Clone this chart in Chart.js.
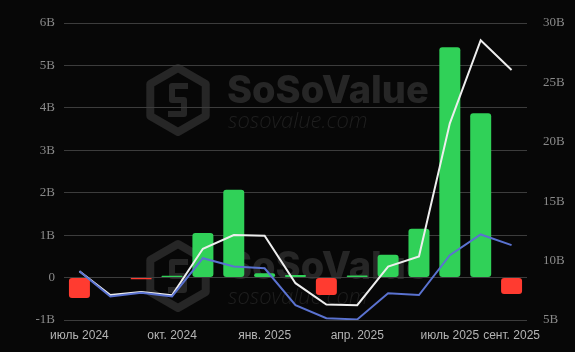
<!DOCTYPE html>
<html>
<head>
<meta charset="utf-8">
<script src="https://cdn.jsdelivr.net/npm/chart.js@4.4.1/dist/chart.umd.min.js"></script>
<style>
  html, body { margin: 0; padding: 0; background: #070707; }
  #wrap { width: 575px; height: 352px; }
</style>
</head>
<body>
<div id="wrap"><canvas id="flowChart" width="575" height="352"></canvas></div>
<script>
// monthly data, Jul 2024 .. Sep 2025
const months = ["июль 2024", "авг. 2024", "сент. 2024", "окт. 2024", "нояб. 2024", "дек. 2024",
  "янв. 2025", "февр. 2025", "март 2025", "апр. 2025", "май 2025", "июнь 2025",
  "июль 2025", "авг. 2025", "сент. 2025"];
const shownLabels = [0, 3, 6, 9, 12, 14];

// net inflow, billions (left axis)
const netInflow = [-0.48, 0, -0.04, 0.04, 1.05, 2.07, 0.1, 0.06, -0.41, 0.05, 0.54, 1.15, 5.43, 3.87, -0.39];
// right axis series, billions
const totalAssets = [9.1, 7.1, 7.35, 7.08, 11.0, 12.15, 12.1, 8.1, 6.3, 6.25, 9.5, 10.35, 21.55, 28.55, 26.05];
const secondLine = [9.1, 6.98, 7.3, 6.98, 10.2, 9.5, 9.35, 6.25, 5.15, 5.05, 7.25, 7.1, 10.45, 12.2, 11.3];

const leftTicks = [-1, 0, 1, 2, 3, 4, 5, 6];
const rightTicks = [5, 10, 15, 20, 25, 30];

const GREEN = "#30d158";
const RED = "#ff3b30";

const watermark = {
  id: "watermark",
  beforeDraw(chart) {
    const ctx = chart.ctx;
    ctx.save();
    ctx.fillStyle = "#070707";
    ctx.fillRect(0, 0, chart.width, chart.height);
    [0, 176].forEach(dy => {
      drawHex(ctx, 178, 100 + dy, 32);
      ctx.fillStyle = "#262626";
      ctx.font = "800 38px Inter";
      ctx.textBaseline = "alphabetic";
      ctx.fillText("SoSoValue", 227, 103 + dy);
      ctx.fillStyle = "#1f1f1f";
      ctx.font = "italic 300 22px 'Open Sans'";
      ctx.fillText("sosovalue.com", 228, 128 + dy);
    });
    ctx.restore();
  }
};

function drawHex(ctx, cx, cy, r) {
  ctx.strokeStyle = "#262626";
  ctx.lineWidth = 8;
  ctx.lineJoin = "round";
  ctx.beginPath();
  for (let i = 0; i < 6; i++) {
    const a = Math.PI / 3 * i - Math.PI / 2;
    const x = cx + r * Math.cos(a), y = cy + r * Math.sin(a);
    i ? ctx.lineTo(x, y) : ctx.moveTo(x, y);
  }
  ctx.closePath();
  ctx.stroke();
  ctx.lineWidth = 6;
  ctx.beginPath();
  ctx.moveTo(cx + 10, cy - 14);
  ctx.lineTo(cx - 6, cy - 14);
  ctx.lineTo(cx - 6, cy);
  ctx.lineTo(cx + 6, cy);
  ctx.lineTo(cx + 6, cy + 14);
  ctx.lineTo(cx - 10, cy + 14);
  ctx.stroke();
}

new Chart(document.getElementById("flowChart"), {
  type: "bar",
  data: {
    labels: months,
    datasets: [
      {
        type: "line", label: "line2", data: secondLine, yAxisID: "yR",
        borderColor: "#5a72d0", borderWidth: 2, pointRadius: 0, tension: 0, order: 0
      },
      {
        type: "line", label: "total", data: totalAssets, yAxisID: "yR",
        borderColor: "#eeeeee", borderWidth: 2, pointRadius: 0, tension: 0, order: 1
      },
      {
        label: "net", data: netInflow, yAxisID: "yL", order: 2,
        backgroundColor: netInflow.map(v => v < 0 ? RED : GREEN),
        borderRadius: 3, borderSkipped: false,
        categoryPercentage: 0.8, barPercentage: 0.85
      }
    ]
  },
  options: {
    responsive: false,
    animation: false,
    layout: { padding: { top: 23, left: 0, right: 0, bottom: 0 } },
    plugins: { legend: { display: false }, tooltip: { enabled: false } },
    scales: {
      x: {
        grid: { display: false },
        border: { display: false },
        afterFit: s => { s.height = 32; },
        ticks: {
          autoSkip: false, maxRotation: 0, color: "#b4b4b4", padding: 0,
          font: { family: "Liberation Sans", size: 12 },
          callback: (v, i) => shownLabels.includes(i) ? months[i] : ""
        }
      },
      yL: {
        position: "left", min: -1, max: 6,
        afterFit: s => { s.width = 64; },
        afterBuildTicks: s => { s.ticks = leftTicks.map(v => ({ value: v })); },
        grid: { color: "#3c3c3c", drawTicks: false },
        border: { display: false },
        ticks: {
          color: "#8a8a8a", padding: 9,
          font: { family: "'Liberation Serif', 'Times New Roman', serif", size: 13 },
          callback: v => v === 0 ? "0" : v + "B"
        }
      },
      yR: {
        position: "right", min: 5, max: 30,
        afterFit: s => { s.width = 48; },
        afterBuildTicks: s => { s.ticks = rightTicks.map(v => ({ value: v })); },
        grid: { display: false },
        border: { display: false },
        ticks: {
          color: "#8a8a8a", padding: 8,
          font: { family: "'Liberation Serif', 'Times New Roman', serif", size: 13 },
          callback: v => v + "B"
        }
      }
    }
  },
  plugins: [watermark]
});
</script>
</body>
</html>
